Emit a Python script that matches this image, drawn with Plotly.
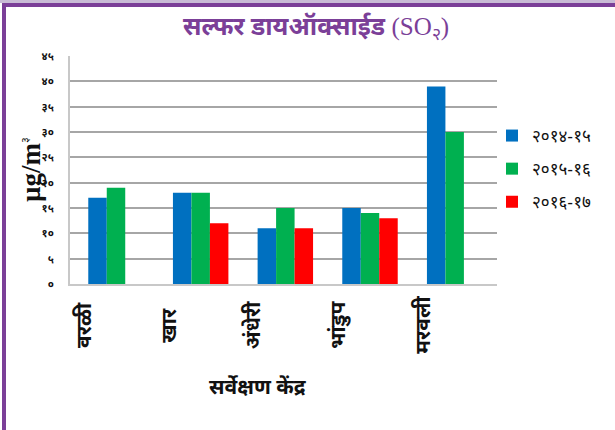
import plotly.graph_objects as go

# ---- data ----
stations = ["वरळी", "खार", "अंधेरी", "भांडुप", "मरवली"]
series_names = ["२०१४-१५", "२०१५-१६", "२०१६-१७"]
so2_2014_15 = [17, 18, 11, 15, 39]
so2_2015_16 = [19, 18, 15, 14, 30]
so2_2016_17 = [None, 12, 11, 13, None]
y_tick_vals = [0, 5, 10, 15, 20, 25, 30, 35, 40, 45]
y_tick_text = ["०", "५", "१०", "१५", "२०", "२५", "३०", "३५", "४०", "४५"]

colors = ["#0070C0", "#00B050", "#FF0000"]
W, H = 615, 430
L, R, T, B = 70, 497, 56, 284  # plot area pixels

def px(x):
    return (x - L) / (R - L)

def py(y):
    return (B - y) / (B - T)

DEV = "Noto Sans Devanagari, Noto Sans, Lohit Devanagari, sans-serif"

fig = go.Figure()
for i, (name, vals) in enumerate(zip(series_names, [so2_2014_15, so2_2015_16, so2_2016_17])):
    fig.add_trace(go.Bar(
        x=stations, y=vals, name=name, legendgroup=name,
        marker=dict(color=colors[i], line=dict(width=0)),
    ))

annotations = []
for s in stations:
    annotations.append(dict(
        x=s, xref="x", y=py(325), yref="paper", text="<b>" + s + "</b>", textangle=-90,
        showarrow=False, xanchor="center", yanchor="middle", xshift=-30,
        font=dict(family=DEV, size=21, color="#111111"),
    ))
annotations.append(dict(
    x=px(258), xref="paper", y=py(389), yref="paper", text="<b>सर्वेक्षण केंद्र</b>",
    showarrow=False, xanchor="center", yanchor="middle",
    font=dict(family=DEV, size=21, color="#111111"),
))
annotations.append(dict(
    x=px(31), xref="paper", y=py(170), yref="paper",
    text="<b>µg/m</b><sup><span style=\"font-size:11px\">३</span></sup>", textangle=-90,
    showarrow=False, xanchor="center", yanchor="middle",
    font=dict(family="Liberation Serif, serif", size=27, color="#111111"),
))
annotations.append(dict(
    x=px(316), xref="paper", y=py(29), yref="paper",
    text="<b>सल्फर डायऑक्साईड</b> <span style=\"font-family:'Liberation Serif'\">(SO<sub>२</sub>)</span>",
    showarrow=False, xanchor="center", yanchor="middle",
    font=dict(family=DEV, size=25, color="#7B3F98"),
))

shapes = [
    dict(type="rect", xref="paper", yref="paper", x0=px(0), x1=px(W), y0=py(0), y1=py(3),
         fillcolor="#C9BCD6", line=dict(width=0), layer="below"),
    dict(type="rect", xref="paper", yref="paper", x0=px(2), x1=px(W), y0=py(3), y1=py(7),
         fillcolor="#7B3F98", line=dict(width=0)),
    dict(type="rect", xref="paper", yref="paper", x0=px(2), x1=px(6), y0=py(3), y1=py(H),
         fillcolor="#7B3F98", line=dict(width=0)),
]

fig.update_layout(
    width=W, height=H,
    margin=dict(l=L, r=W - R, t=T, b=H - B, pad=0),
    paper_bgcolor="white", plot_bgcolor="white",
    barmode="group", bargap=0.345, bargroupgap=0,
    showlegend=True,
    legend=dict(x=px(492), xanchor="left", y=py(118), yanchor="top",
                font=dict(family=DEV, size=17, color="#111111"),
                tracegroupgap=8, bgcolor="rgba(0,0,0,0)"),
    annotations=annotations, shapes=shapes,
    xaxis=dict(showticklabels=False, ticks="", showgrid=False, zeroline=False,
               showline=True, linecolor="#C8C8C8", linewidth=2),
    yaxis=dict(range=[0, 45], tickvals=y_tick_vals, ticktext=["<b>" + t + "</b>" for t in y_tick_text],
               tickfont=dict(family=DEV, size=11, color="#111111"),
               ticks="", ticklabelstandoff=12,
               showgrid=True, gridcolor="#A6A6A6", gridwidth=1.5,
               zeroline=False, showline=True, linecolor="#C8C8C8", linewidth=2),
)

fig.write_html("out.html", config={"displayModeBar": False},
               post_script="document.body.style.margin='0px';")
